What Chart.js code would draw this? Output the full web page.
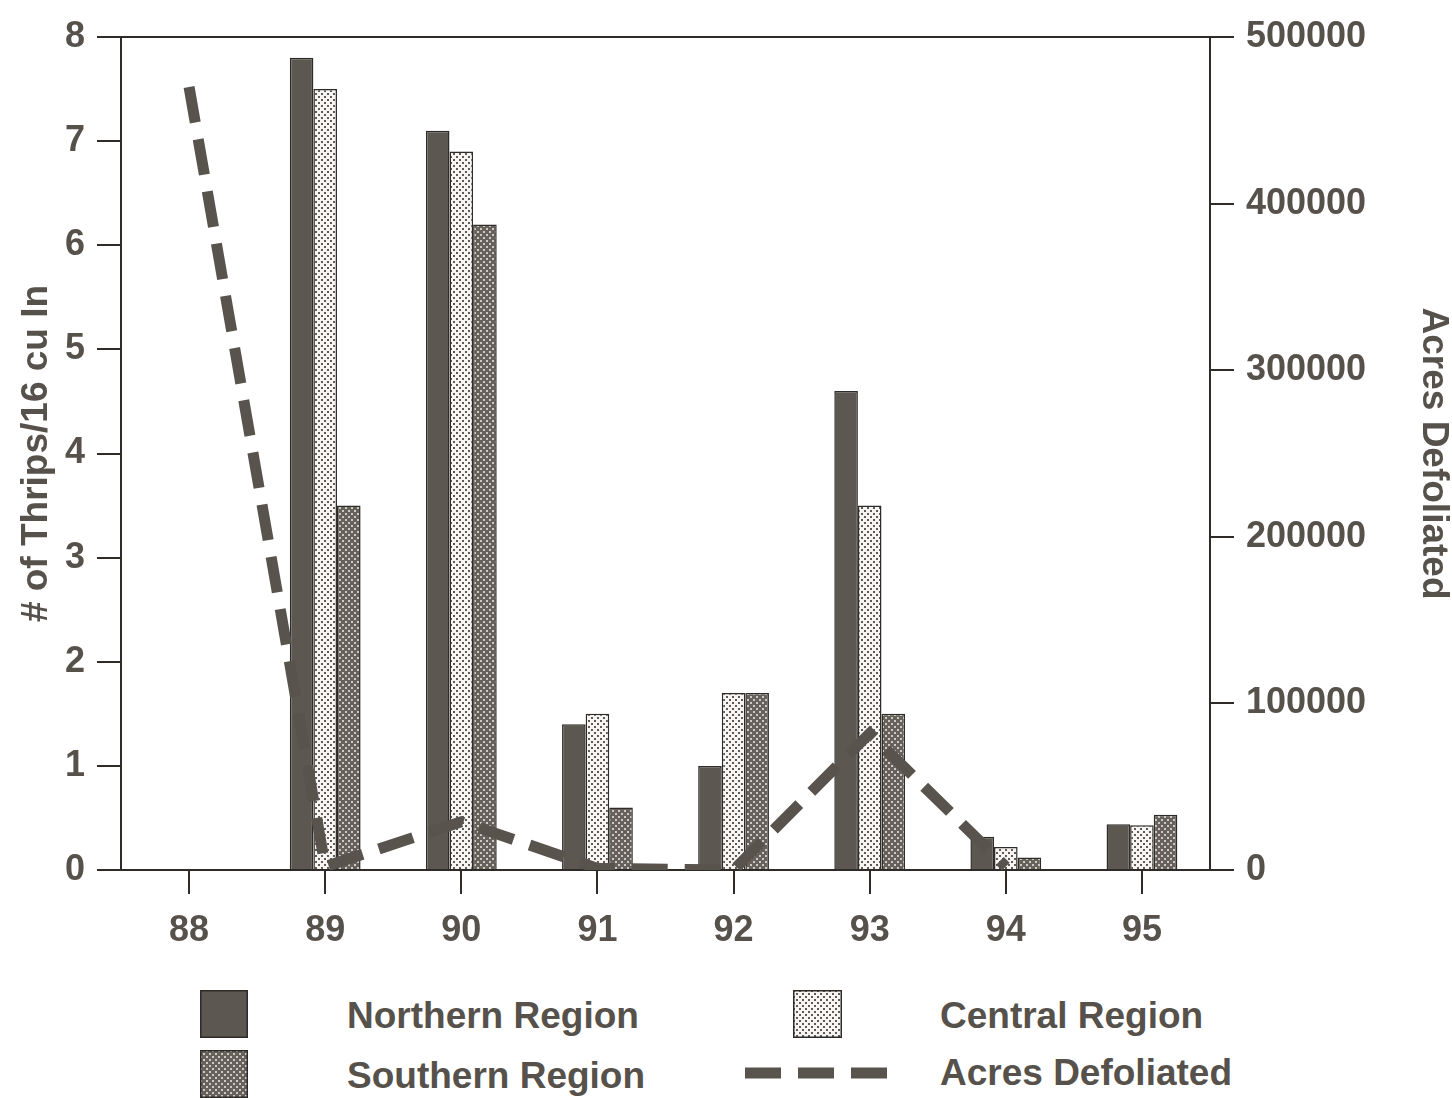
<!DOCTYPE html>
<html>
<head>
<meta charset="utf-8">
<script src="https://cdn.jsdelivr.net/npm/chart.js@4.4.1/dist/chart.umd.min.js"></script>
<style>
  body { margin: 0; background: #fff; width: 1452px; height: 1098px; overflow: hidden; position: relative;
         font-family: 'Liberation Sans', Arial, sans-serif; }
  #zone { position: absolute; left: 0; top: 0; width: 1452px; height: 975px; }
  .leg  { position: absolute; font-weight: bold; font-size: 37px; line-height: 1; color: #56514b; white-space: nowrap; }
  .case { position: absolute; }
</style>
</head>
<body>
<div id="zone"><canvas id="graphe"></canvas></div>

<canvas class="case" id="leg-nord"   width="48" height="48" style="left:200px;top:990px"></canvas>
<div class="leg" style="left:347px;top:997px">Northern Region</div>
<canvas class="case" id="leg-centre" width="49" height="48" style="left:793px;top:990px"></canvas>
<div class="leg" style="left:940px;top:997px">Central Region</div>
<canvas class="case" id="leg-sud"    width="48" height="48" style="left:200px;top:1050px"></canvas>
<div class="leg" style="left:347px;top:1057px">Southern Region</div>
<canvas class="case" id="leg-acres"  width="142" height="14" style="left:745px;top:1066px"></canvas>
<div class="leg" style="left:940px;top:1054px">Acres Defoliated</div>

<script>
/* ── Data ──────────────────────────────────────────────── */
const years       = ['88', '89', '90', '91', '92', '93', '94', '95'];
const northern    = [null, 7.8, 7.1, 1.4, 1.0, 4.6, 0.32, 0.44];
const central     = [null, 7.5, 6.9, 1.5, 1.7, 3.5, 0.22, 0.43];
const southern    = [null, 3.5, 6.2, 0.6, 1.7, 1.5, 0.12, 0.53];
const acres       = [470000, 2000, 29000, 1000, 0, 82000, 2000, null];
const ticksThrips = [0, 1, 2, 3, 4, 5, 6, 7, 8];
const ticksAcres  = [0, 100000, 200000, 300000, 400000, 500000];

/* ── Styles ────────────────────────────────────────────── */
const ink      = '#56514b';
const axisInk  = '#2f2b28';
const darkFill = '#5d5751';
const lineInk  = '#58534d';
const dash     = [36, 17];
const family   = "'Liberation Sans', Arial, sans-serif";
const tickFont  = { family, size: 36, weight: 'bold' };
const titleFont = { family, size: 37, weight: 'bold', lineHeight: 1 };

/* dotted fill: staggered square dots on a tile */
function dots(ctx, bg, dot, step, size) {
  const c = document.createElement('canvas');
  c.width = c.height = step;
  const g = c.getContext('2d');
  g.fillStyle = bg;  g.fillRect(0, 0, step, step);
  g.fillStyle = dot;
  g.fillRect(0, 0, size, size);
  g.fillRect(step / 2, step / 2, size, size);
  return ctx.createPattern(c, 'repeat');
}

const ctx = document.getElementById('graphe').getContext('2d');
const fillCentral  = dots(ctx, '#f6f5f3', '#5f5a55', 6, 2);
const fillSouthern = dots(ctx, '#67615b', '#cdc9c4', 6, 2);

/* top edge of the frame */
const topEdge = {
  id: 'topEdge',
  afterDraw(chart) {
    const { ctx: c, chartArea: a } = chart;
    c.save();
    c.strokeStyle = axisInk;
    c.lineWidth = 2;
    c.beginPath();
    c.moveTo(a.left, a.top);
    c.lineTo(a.right, a.top);
    c.stroke();
    c.restore();
  },
};

const axisGrid = { drawOnChartArea: false, tickLength: 24, color: axisInk, lineWidth: 2 };
const axisBorder = { color: axisInk, width: 2 };

new Chart(ctx, {
  data: {
    labels: years,
    datasets: [
      {
        type: 'line', label: 'Acres Defoliated', data: acres, yAxisID: 'y2',
        borderColor: lineInk, borderWidth: 11, borderDash: dash, borderCapStyle: 'butt',
        pointRadius: 0, tension: 0, fill: false, order: 0,
      },
      { type: 'bar', label: 'Northern Region', data: northern, backgroundColor: darkFill,
        borderColor: axisInk, borderWidth: 1.5, yAxisID: 'y', order: 1 },
      { type: 'bar', label: 'Central Region', data: central, backgroundColor: fillCentral,
        borderColor: axisInk, borderWidth: 1.5, yAxisID: 'y', order: 1 },
      { type: 'bar', label: 'Southern Region', data: southern, backgroundColor: fillSouthern,
        borderColor: axisInk, borderWidth: 1.5, yAxisID: 'y', order: 1 },
    ],
  },
  options: {
    responsive: true,
    maintainAspectRatio: false,
    animation: false,
    layout: { padding: { top: 37, left: 0, right: 0, bottom: 0 } },
    datasets: { bar: { categoryPercentage: 0.52, barPercentage: 1 } },
    plugins: { legend: { display: false }, tooltip: { enabled: false } },
    scales: {
      x: {
        offset: true,
        grid: { ...axisGrid, offset: false },
        border: axisBorder,
        ticks: { font: tickFont, color: ink, padding: 15 },
        afterFit: s => { s.height = 105; },
      },
      y: {
        position: 'left', min: 0, max: 8,
        afterBuildTicks: s => { s.ticks = ticksThrips.map(v => ({ value: v })); },
        grid: axisGrid,
        border: axisBorder,
        ticks: { font: tickFont, color: ink, padding: 12, callback: v => String(v) },
        title: { display: true, text: '# of Thrips/16 cu In', font: titleFont, color: ink,
                 padding: { top: 18, bottom: 0 } },
        afterFit: s => { s.width = 121; },
      },
      y2: {
        position: 'right', min: 0, max: 500000,
        afterBuildTicks: s => { s.ticks = ticksAcres.map(v => ({ value: v })); },
        grid: axisGrid,
        border: axisBorder,
        ticks: { font: tickFont, color: ink, padding: 12, callback: v => String(v) },
        title: { display: true, text: 'Acres Defoliated', font: titleFont, color: ink,
                 padding: { top: 0, bottom: 0 } },
        afterFit: s => { s.width = 242; },
      },
    },
  },
  plugins: [topEdge],
});

/* ── Legend swatches ───────────────────────────────────── */
function swatch(id, fill) {
  const cv = document.getElementById(id);
  const g = cv.getContext('2d');
  g.fillStyle = typeof fill === 'string' ? fill : dots(g, ...fill);
  g.fillRect(0, 0, cv.width, cv.height);
  g.strokeStyle = axisInk;
  g.lineWidth = 1.5;
  g.strokeRect(0.75, 0.75, cv.width - 1.5, cv.height - 1.5);
}
swatch('leg-nord', darkFill);
swatch('leg-centre', ['#f6f5f3', '#5f5a55', 6, 2]);
swatch('leg-sud', ['#67615b', '#cdc9c4', 6, 2]);

const lg = document.getElementById('leg-acres').getContext('2d');
lg.strokeStyle = lineInk;
lg.lineWidth = 11;
lg.setLineDash(dash);
lg.beginPath();
lg.moveTo(0, 7);
lg.lineTo(142, 7);
lg.stroke();
</script>
</body>
</html>
